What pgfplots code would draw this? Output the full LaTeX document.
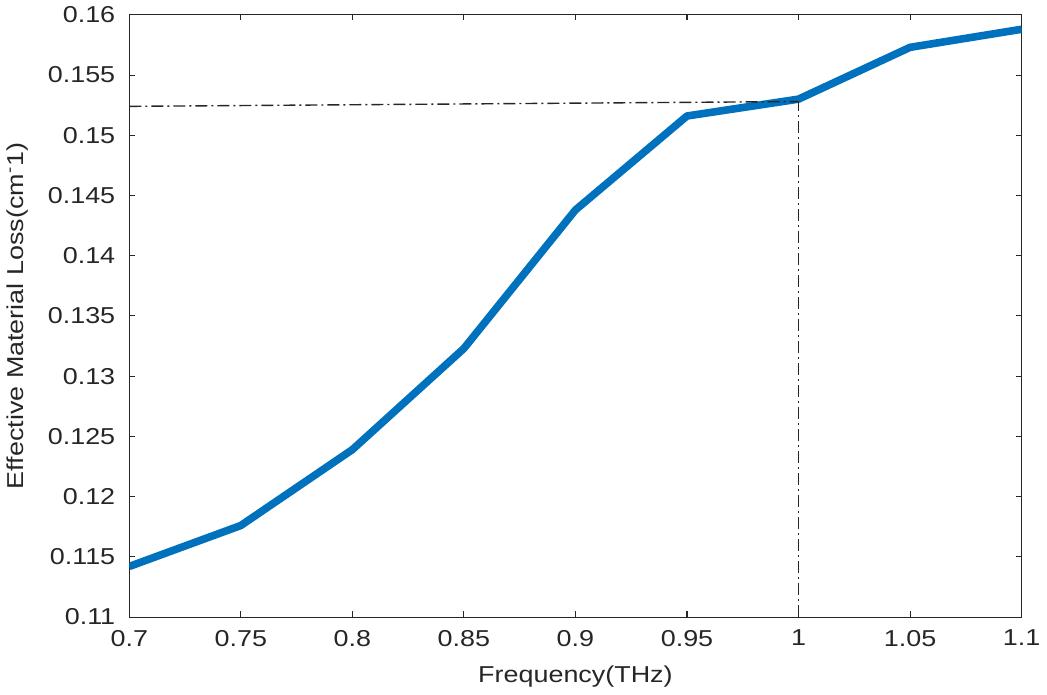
\documentclass[border=0pt]{standalone}
\usepackage{pgfplots}
\pgfplotsset{compat=1.18}
\usepackage{fontspec}
\setmainfont{Liberation Sans}[FakeStretch=1.17]
\definecolor{mblue}{rgb}{0,0.447,0.741}
\definecolor{axgray}{gray}{0.15}
\begin{document}
\begin{tikzpicture}
\begin{axis}[
    scale only axis,
    width=446pt, height=301pt,
    xmin=0.7, xmax=1.1, ymin=0.11, ymax=0.16,
    xtick={0.7,0.75,...,1.1},
    ytick={0.11,0.115,...,0.16},
    scaled ticks=false,
    /pgf/number format/.cd, fixed, precision=3, assume math mode=true,
    /pgfplots/.cd,
    tick align=inside,
    major tick length=2.8pt,
    axis line style={axgray, line width=0.5pt},
    tick style={axgray, line width=0.5pt},
    tick label style={axgray, font=\fontsize{11.5}{13}\selectfont},
    label style={font=\fontsize{11.5}{13}\selectfont, text=axgray},
    xlabel={Frequency(THz)},
    ylabel={Effective Material Loss(cm\textsuperscript{-}1)},
    xticklabel style={yshift=-3pt},
    yticklabel style={xshift=-3.5pt},
    xlabel style={yshift=-3pt},
    ylabel style={yshift=3pt},
]
\addplot[mblue, line width=3.8pt, line join=round] coordinates {
    (0.70,0.1142)(0.75,0.1176)(0.80,0.1239)(0.85,0.1323)(0.90,0.1438)
    (0.95,0.1516)(1.00,0.1530)(1.05,0.1573)(1.10,0.1588)
};
\addplot[axgray, line width=0.7pt, dash pattern=on 6pt off 2pt on 1pt off 2pt] coordinates {
    (0.70,0.1524)(1.00,0.1528)
};
\addplot[axgray, line width=0.7pt, dash pattern=on 6pt off 2pt on 1pt off 2pt] coordinates {
    (1.00,0.11)(1.00,0.1528)
};
\end{axis}
\end{tikzpicture}
\end{document}
